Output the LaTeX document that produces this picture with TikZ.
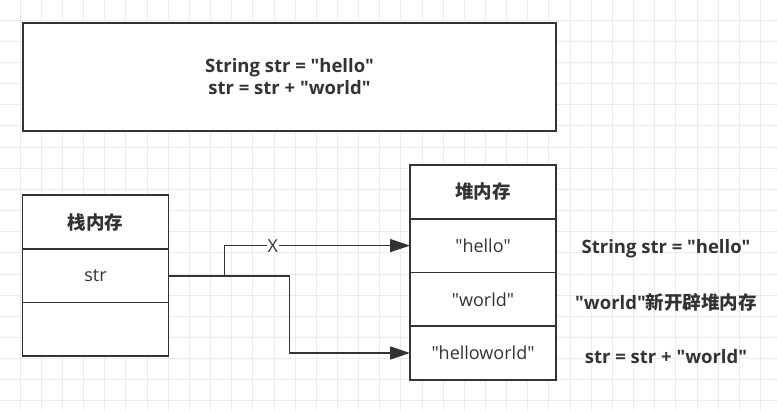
\documentclass[tikz,border=0pt]{standalone}
\usepackage{fontspec}
\setmainfont{Open Sans}[Ligatures=TeXOff]
\newfontfamily\cjk{Noto Sans CJK SC}[Ligatures=TeXOff]
\usetikzlibrary{arrows.meta,positioning}
\definecolor{ink}{HTML}{333333}
\definecolor{gridc}{HTML}{EBEBEB}

\begin{document}
\begin{tikzpicture}[x=1pt,y=-1pt,font=\fontsize{18}{20}\selectfont,text=ink]
\tikzset{box/.style={draw=ink,line width=1.6pt,fill=white,rectangle,inner sep=0pt,outer sep=0pt},
cell/.style={box,minimum width=146pt,minimum height=53.7pt},
lab/.style={font=\fontsize{18.5}{20}\selectfont\bfseries},
arr/.style={draw=ink,line width=1.6pt,-{Triangle[length=20pt,width=13pt]}}}

\useasboundingbox (0,0) rectangle (777,410);
\fill[white] (0,0) rectangle (777,410);
\foreach \i in {0,...,36} \draw[gridc,line width=0.9pt] (-1+21.15*\i,0) -- ++(0,410);
\foreach \j in {0,...,19} \draw[gridc,line width=0.9pt] (0,-1+21.15*\j) -- ++(777,0);

\node[box,minimum width=533pt,minimum height=108pt,align=center,font=\fontsize{18.5}{22}\selectfont\bfseries] (code) at (289.5,77) {String str = "hello"\\str = str + "world"};

\node[cell,lab] (s0) at (95.5,222) {\cjk 栈内存};
\node[cell,below=0pt of s0] (s1) {str};
\node[cell,below=0pt of s1] (s2) {};

\node[cell,lab] (h0) at (483,191.9) {\cjk 堆内存};
\node[cell,below=0pt of h0] (h1) {"hello"};
\node[cell,below=0pt of h1] (h2) {"world"};
\node[cell,below=0pt of h2] (h3) {"helloworld"};

\node[lab] (t1) at (666,249) {String str = "hello"};
\node[lab] (t2) at (666,302) {"world"{\cjk 新开辟堆内存}};
\node[lab] (t3) at (666,357) {str = str + "world"};

\draw[arr] (s1.east) -- ++(56,0) |- node[pos=0.63,fill=white,inner sep=1pt] (x) {X} (h1.west);
\draw[arr] (s1.east) -- ++(121,0) |- (h3.west);
\end{tikzpicture}
\end{document}
